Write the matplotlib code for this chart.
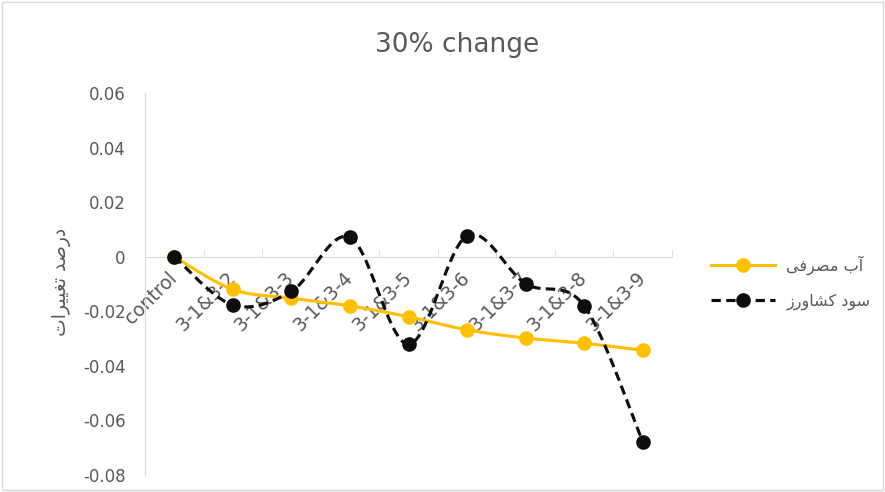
import numpy as np
import matplotlib
matplotlib.use("Agg")
import matplotlib.pyplot as plt
from matplotlib.lines import Line2D
from matplotlib.patches import Rectangle

# data
categories = ["control", "3-1&3-2", "3-1&3-3", "3-1&3-4", "3-1&3-5",
              "3-1&3-6", "3-1&3-7", "3-1&3-8", "3-1&3-9"]
water_use = [0, -0.012, -0.0152, -0.018, -0.022, -0.0268, -0.0298, -0.0317, -0.0343]
farmer_profit = [0, -0.0177, -0.0127, 0.0071, -0.0321, 0.0077, -0.0099, -0.018, -0.0678]

# Persian text, pre-shaped in visual order (presentation forms)
label_water = "\ufef0\ufed3\ufeae\ufebc\ufee3 \ufe8f\ufe81"          # آب مصرفی
label_profit = "\ufeaf\ufead\ufeed\ufe8e\ufeb8\ufedb \ufea9\ufeee\ufeb3"  # سود کشاورز
y_label = "\ufe95\ufe8d\ufeae\ufef4\ufef4\ufed0\ufe97 \ufeaa\ufebb\ufead\ufea9"  # درصد تغییرات


def smooth(xs, ys, n=30):
    # excel-like smoothed line (catmull-rom bezier)
    p = np.column_stack([xs, ys]).astype(float)
    p = np.vstack([p[0], p, p[-1]])
    out = []
    t = np.linspace(0, 1, n)[:, None]
    for i in range(1, len(p) - 2):
        p0, p3 = p[i], p[i + 1]
        c1 = p0 + (p[i + 1] - p[i - 1]) / 6
        c2 = p3 - (p[i + 2] - p[i]) / 6
        seg = (1 - t) ** 3 * p0 + 3 * (1 - t) ** 2 * t * c1 + 3 * (1 - t) * t ** 2 * c2 + t ** 3 * p3
        out.append(seg)
    out = np.vstack(out)
    return out[:, 0], out[:, 1]


yellow = "#FFC000"
black = "#0d0d0d"
grey = "#595959"
dash = (0, (3, 1.7))

fig = plt.figure(figsize=(8.85, 4.92), dpi=100)
ax = fig.add_axes([145 / 885, 1 - 475 / 492, 527 / 885, 382 / 492])

# spines first: moving the spine resets the ticks
for s in ["top", "right"]:
    ax.spines[s].set_visible(False)
ax.spines["bottom"].set_position(("data", 0))
ax.spines["bottom"].set_color("#d9d9d9")
ax.spines["left"].set_color("#d9d9d9")

x = np.arange(len(categories))

sx, sy = smooth(x, water_use)
ax.plot(sx, sy, color=yellow, lw=2.25, zorder=2)
ax.plot(x, water_use, "o", color=yellow, ms=9.5, zorder=3)

sx, sy = smooth(x, farmer_profit)
ax.plot(sx, sy, color=black, lw=2.25, ls=dash, zorder=4)
ax.plot(x, farmer_profit, "o", color=black, ms=9.5, zorder=5)

ax.set_xlim(-0.5, len(categories) - 0.5)
ax.set_ylim(-0.08, 0.06)
ax.set_yticks(np.arange(-0.08, 0.061, 0.02))
ax.set_yticklabels(["-0.08", "-0.06", "-0.04", "-0.02", "0", "0.02", "0.04", "0.06"])
ax.tick_params(axis="y", length=0, labelsize=12, labelcolor=grey, pad=14)

ax.set_xticks(x)
ax.set_xticks(np.arange(-0.5, len(categories), 1.0), minor=True)
ax.tick_params(axis="x", which="major", length=0, pad=13)
ax.tick_params(axis="x", which="minor", length=5, direction="in", color="#d9d9d9")
ax.set_xticklabels(categories, fontsize=13.5, color=grey, rotation=45,
                   ha="right", va="center", rotation_mode="anchor")

ax.set_ylabel(y_label, fontsize=13.5, color=grey, family="DejaVu Sans")
ax.yaxis.set_label_coords(-0.14, 0.505)

fig.text(457 / 885, 1 - 45 / 492, "30% change", ha="center", va="center",
         fontsize=19, color=grey)

handles = [
    Line2D([], [], color=yellow, lw=2.25, marker="o", ms=9.5),
    Line2D([], [], color=black, lw=2.25, ls=dash, marker="o", ms=9.5),
]
leg = fig.legend(handles, [label_water, label_profit], loc="center left",
                 bbox_to_anchor=(697 / 885, 1 - 283 / 492), frameon=False,
                 handlelength=4.0, fontsize=11.5, labelspacing=1.15, handletextpad=0.7)
for t in leg.get_texts():
    t.set_color(grey)

fig.patches.append(Rectangle((0.002, 0.004), 0.996, 0.992, transform=fig.transFigure,
                             fill=False, edgecolor="#d9d9d9", lw=1))

fig.savefig("out.png", dpi=100)
